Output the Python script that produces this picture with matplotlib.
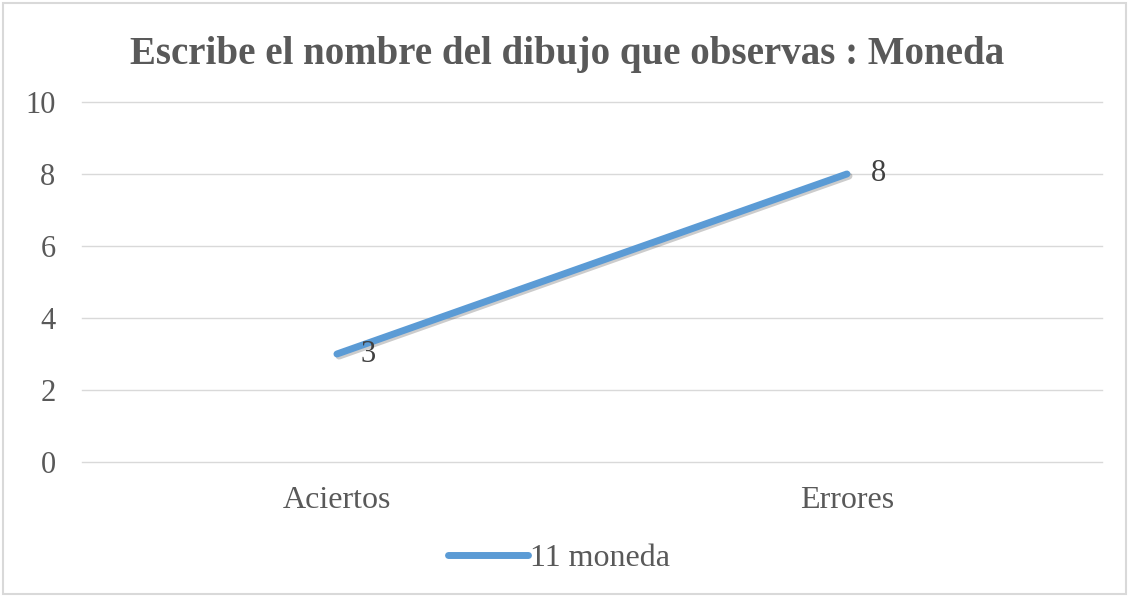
import matplotlib.pyplot as plt
import matplotlib.patheffects as pe
from matplotlib.patches import Rectangle
from matplotlib.lines import Line2D

categories = ["Aciertos", "Errores"]
values = [3, 8]
series_name = "11 moneda"
title = "Escribe el nombre del dibujo que observas : Moneda"

plt.rcParams['font.family'] = ['Liberation Serif', 'DejaVu Serif']
gray = '#595959'
blue = '#5B9BD5'

fig = plt.figure(figsize=(11.29, 5.96), dpi=100)
ax = fig.add_axes([0.0726, 0.2248, 0.9034, 0.6041])

x = list(range(len(categories)))
ax.plot(x, values, color=blue, lw=5, solid_capstyle='round',
        path_effects=[pe.SimpleLineShadow(offset=(1.5, -1.5), alpha=0.2), pe.Normal()])

for xi, v in zip(x, values):
    ax.annotate(str(v), (xi, v), xytext=(17, 0), textcoords='offset points',
                ha='left', va='center', fontsize=22, color='#404040')

ax.set_xlim(-0.5, 1.5)
ax.set_ylim(0, 10)
ax.set_yticks(range(0, 11, 2))
ax.set_xticks(x)
ax.set_xticklabels(categories)
ax.tick_params(axis='both', length=0, labelsize=22, labelcolor=gray)
ax.tick_params(axis='x', labelsize=23, pad=17)
ax.tick_params(axis='y', pad=19)
ax.grid(axis='y', color='#D9D9D9', lw=1)
for gl in ax.get_ygridlines():
    gl.set_clip_on(False)
ax.set_axisbelow(True)
for s in ax.spines.values():
    s.set_visible(False)

fig.text(0.502, 0.908, title, ha='center', va='center', fontsize=28,
         fontweight='bold', color=gray)

handle = Line2D([], [], color=blue, lw=5, solid_capstyle='round')
fig.legend([handle], [series_name], loc='center', bbox_to_anchor=(0.495, 0.063),
           frameon=False, fontsize=23, handlelength=2.5, handletextpad=0.05,
           labelcolor=gray)

fig.patches.append(Rectangle((0.003, 0.003), 0.994, 0.992, transform=fig.transFigure,
                             fill=False, edgecolor='#D9D9D9', lw=1.5))

fig.savefig('out.png', dpi=100)
